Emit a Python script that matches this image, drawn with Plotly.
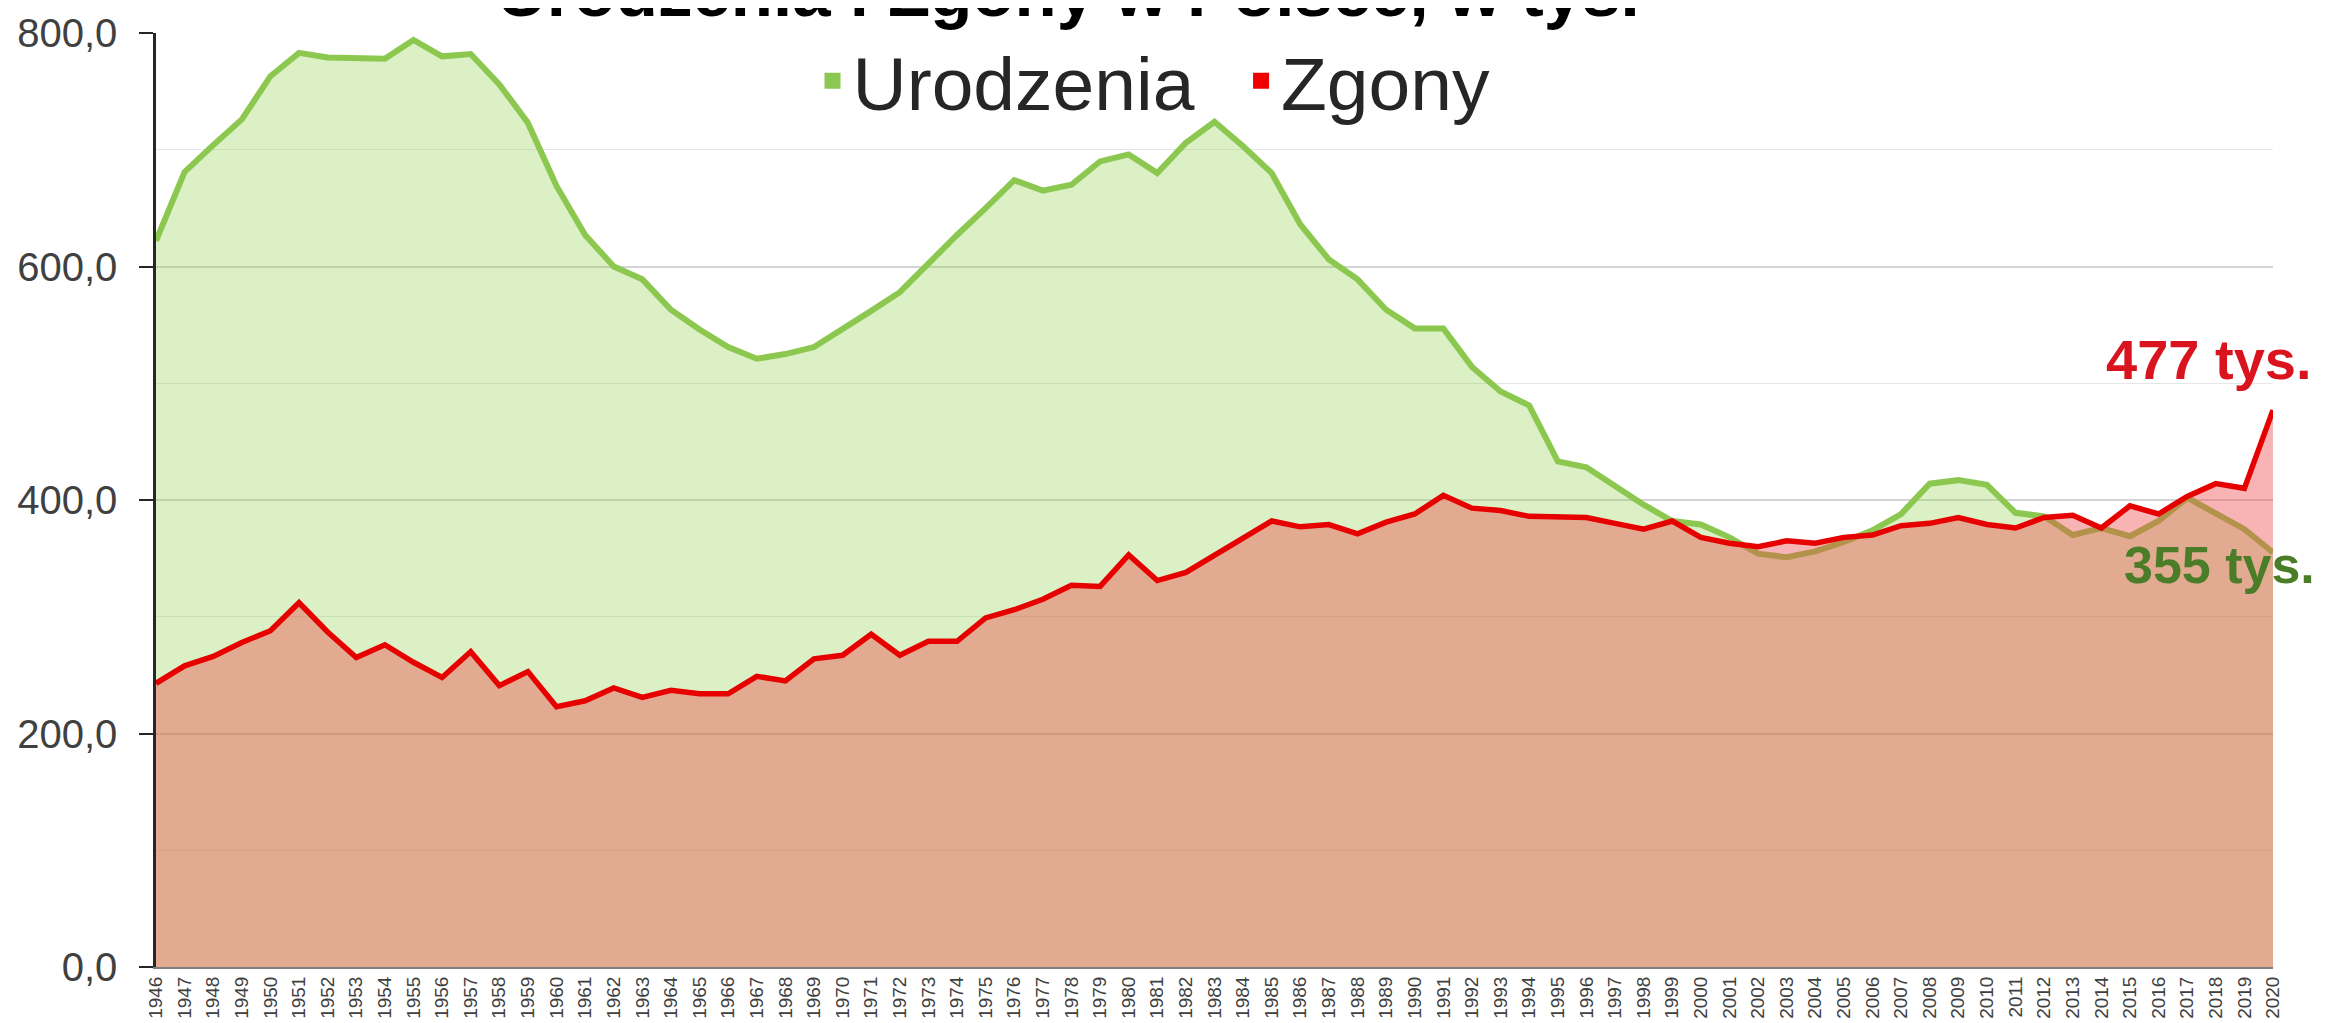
import plotly.graph_objects as go

years = list(range(1946, 2021))

births = [622, 681, 704, 726, 763, 783, 779, 779, 778, 794,
          780, 782, 756, 723, 669, 627, 600, 589, 563, 546,
          531, 521, 525, 531, 546, 562, 578, 603, 627, 650,
          674, 665, 670, 690, 696, 680, 706, 724, 703, 680,
          636, 606, 589, 563, 547, 547, 514, 493, 481, 433,
          428, 412, 396, 382, 379, 368, 354, 351, 356, 364,
          374, 388, 414, 417, 413, 389, 386, 370, 376, 369,
          382, 402, 388, 375, 355]

deaths = [243, 258, 266, 278, 288, 312, 287, 265, 276, 261,
          248, 270, 241, 253, 223, 228, 239, 231, 237, 234,
          234, 249, 245, 264, 267, 285, 267, 279, 279, 299,
          306, 315, 327, 326, 353, 331, 338, 353, 368, 382,
          377, 379, 371, 381, 388, 404, 393, 391, 386, 386,
          385, 380, 375, 382, 368, 363, 360, 365, 363, 368,
          370, 378, 380, 385, 379, 376, 385, 387, 376, 395,
          388, 403, 414, 410, 477]

title_text = "Urodzenia i Zgony w Polsce, w tys."
series_names = ["Urodzenia", "Zgony"]
label_deaths = "477 tys."
label_births = "355 tys."

FONT = "Liberation Sans, Arial, sans-serif"
W, H = 2331, 1023
ML, MR, MT, MB = 148, 66, 25, 64
PW = W - ML - MR
PH = H - MT - MB


def px_x(px):
    return (px - ML) / PW


def px_y(py):
    return (H - MB - py) / PH


fig = go.Figure()

fig.add_trace(go.Scatter(
    x=years, y=births, mode="lines", name=series_names[0],
    line=dict(color="#8cc850", width=6),
    fill="tozeroy", fillcolor="rgba(146,208,80,0.33)",
    showlegend=False, hoverinfo="x+y"))

fig.add_trace(go.Scatter(
    x=years, y=deaths, mode="lines", name=series_names[1],
    line=dict(color="#e60000", width=5.5),
    fill="tozeroy", fillcolor="rgba(237,67,67,0.40)",
    showlegend=False, hoverinfo="x+y"))

# legend-only entries with square symbols
fig.add_trace(go.Scatter(
    x=[None], y=[None], mode="markers", name=series_names[0] + "\u00a0\u00a0",
    marker=dict(symbol="square", size=16, color="#8cc850")))
fig.add_trace(go.Scatter(
    x=[None], y=[None], mode="markers", name=series_names[1],
    marker=dict(symbol="square", size=16, color="#ee0000")))

fig.update_layout(
    width=W, height=H,
    margin=dict(l=ML, r=MR, t=MT, b=MB, pad=0),
    paper_bgcolor="white", plot_bgcolor="white",
    separators=", ",
    font=dict(family=FONT, color="#404040"),
    showlegend=True,
    legend=dict(
        orientation="h", x=px_x(1146), xanchor="center",
        y=px_y(73), yanchor="middle",
        font=dict(size=75, color="#262626", family=FONT),
        bgcolor="rgba(0,0,0,0)", itemwidth=30,
        tracegroupgap=0,
    ),
    xaxis=dict(
        range=[1946, 2020], dtick=1, tick0=1946,
        tickangle=-90, tickfont=dict(size=19, color="#404040"),
        showgrid=False, zeroline=False,
        showline=True, linecolor="#7f7f7f", linewidth=2,
        ticks="", automargin=False,
    ),
    yaxis=dict(
        range=[0, 800], dtick=200, tick0=0, tickformat=".1f",
        tickfont=dict(size=40, color="#404040"),
        ticklabelstandoff=14,
        showgrid=True, gridcolor="#d4d4d4", gridwidth=1.5,
        minor=dict(dtick=100, showgrid=True, gridcolor="#e6e6e6", gridwidth=1.2),
        zeroline=False,
        showline=True, linecolor="#262626", linewidth=2.5,
        ticks="outside", ticklen=14, tickwidth=2, tickcolor="#262626",
        automargin=False,
    ),
    annotations=[
        dict(text="<b>" + title_text + "</b>", xref="paper", yref="paper",
             x=px_x(1060), xanchor="center",
             y=px_y(25), yanchor="bottom",
             showarrow=False, font=dict(size=69, color="#000000", family=FONT)),
        dict(text="<b>" + label_deaths + "</b>", xref="paper", yref="paper",
             x=px_x(2201), xanchor="center",
             y=px_y(351), yanchor="middle",
             showarrow=False, font=dict(size=56, color="#d9141e", family=FONT)),
        dict(text="<b>" + label_births + "</b>", xref="paper", yref="paper",
             x=px_x(2114), xanchor="left",
             y=px_y(557), yanchor="middle",
             showarrow=False, font=dict(size=52, color="#4b7d28", family=FONT)),
    ],
)

fig.write_html("out.html")
